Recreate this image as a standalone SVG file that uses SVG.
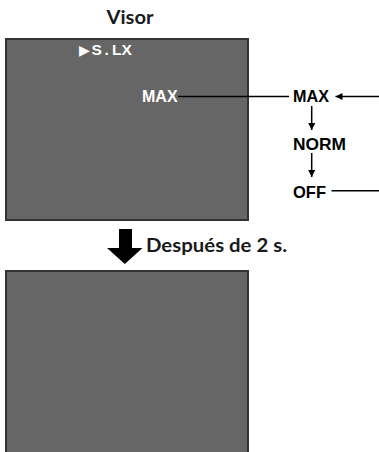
<svg xmlns="http://www.w3.org/2000/svg" width="379" height="452" viewBox="0 0 379 452">
<defs>
<style>
.screen{fill:#666666;stroke:#333333;stroke-width:2}
.title{font-family:"Lato","Open Sans",sans-serif;font-weight:bold;font-size:18px;fill:#1a1a1a}
.lbl{font-family:"Liberation Sans",Arial,sans-serif;font-weight:bold;font-size:16.5px;fill:#000}
.osd{font-family:"Liberation Sans","DejaVu Sans",sans-serif;font-weight:bold;font-size:16px;fill:#ffffff}
.ln{stroke:#000;stroke-width:1.5;fill:none}
</style>
<marker id="ah" viewBox="0 0 10 10" refX="10" refY="5" markerWidth="9" markerHeight="7" markerUnits="userSpaceOnUse" orient="auto">
<path d="M0,0 L10,5 L0,10 z" fill="#000"/>
</marker>
</defs>
<rect width="379" height="452" fill="#fff"/>
<text class="title" x="130" y="24" text-anchor="middle" textLength="47" lengthAdjust="spacingAndGlyphs">Visor</text>
<g id="screen-top">
<rect class="screen" x="6" y="39" width="242" height="181"/>
<text class="osd" x="79" y="54.5" style="font-size:15.5px"><tspan style="font-size:14px">▶</tspan><tspan x="91.5">S</tspan><tspan x="104.5">.</tspan><tspan x="112">LX</tspan></text>
<text id="osd-max" class="osd" x="142" y="102">MAX</text>
</g>
<g id="opt-max"><text class="lbl" x="293" y="101.5" textLength="36" lengthAdjust="spacingAndGlyphs">MAX</text></g>
<g id="opt-norm"><text class="lbl" x="293" y="150" textLength="53" lengthAdjust="spacingAndGlyphs">NORM</text></g>
<g id="opt-off"><text class="lbl" x="293" y="197.5" textLength="33" lengthAdjust="spacingAndGlyphs">OFF</text></g>
<g id="connectors">
<line class="ln" x1="178" y1="96.5" x2="289" y2="96.5"/>
<line class="ln" x1="379" y1="96.5" x2="335.5" y2="96.5" marker-end="url(#ah)"/>
<line class="ln" x1="311.7" y1="106" x2="311.7" y2="130" marker-end="url(#ah)"/>
<line class="ln" x1="311.7" y1="153" x2="311.7" y2="177" marker-end="url(#ah)"/>
<line class="ln" x1="331.5" y1="190.7" x2="379" y2="190.7"/>
</g>
<g id="big-arrow">
<polygon points="119,229 132,229 132,248 142.5,248 124.8,264 107,248 119,248" fill="#000"/>
</g>
<text class="title" x="146" y="252" textLength="141" lengthAdjust="spacingAndGlyphs">Después de 2 s.</text>
<g id="screen-bottom">
<rect class="screen" x="6" y="271" width="242" height="200"/>
</g>
</svg>
